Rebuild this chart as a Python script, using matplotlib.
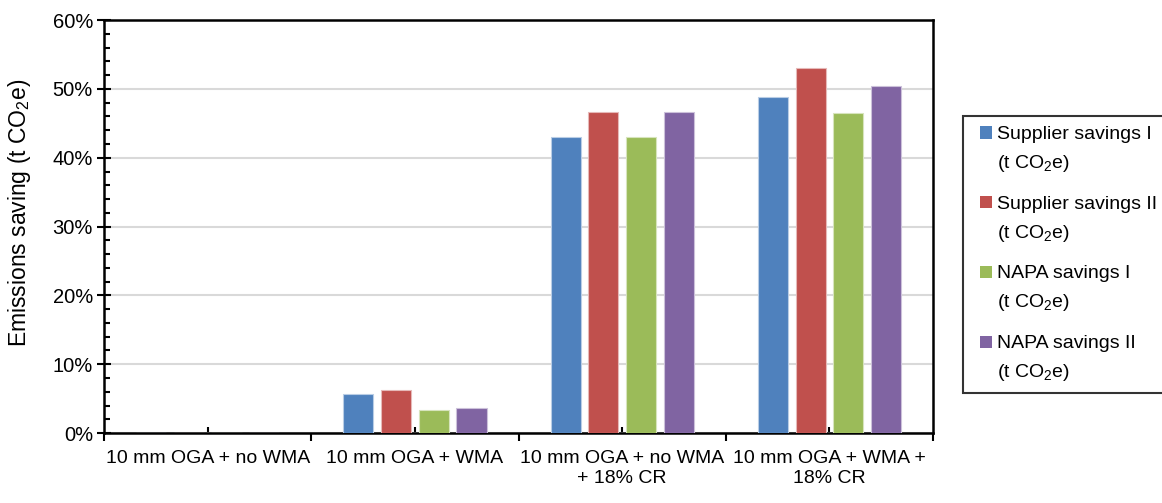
import numpy as np
import matplotlib.pyplot as plt
from matplotlib.patches import Rectangle
from matplotlib.legend_handler import HandlerPatch
from matplotlib.ticker import MultipleLocator, FuncFormatter

plt.rcParams['font.family'] = ['Liberation Sans', 'DejaVu Sans']
plt.rcParams['mathtext.fontset'] = 'custom'
plt.rcParams['mathtext.rm'] = 'Liberation Sans'

scenarios = ["10 mm OGA + no WMA", "10 mm OGA + WMA",
             "10 mm OGA + no WMA\n+ 18% CR", "10 mm OGA + WMA +\n18% CR"]
series = ["Supplier savings I", "Supplier savings II",
          "NAPA savings I", "NAPA savings II"]
supplier_1 = [0.0, 5.7, 43.0, 48.8]
supplier_2 = [0.0, 6.2, 46.7, 53.0]
napa_1 = [0.0, 3.4, 43.0, 46.5]
napa_2 = [0.0, 3.7, 46.7, 50.5]
colors = ["#4F81BD", "#C0504D", "#9BBB59", "#8064A2"]
edges = ["#B9CDE5", "#E6B9B8", "#D7E4BD", "#CCC1DA"]


class TopSquare(HandlerPatch):
    """Small square key placed beside the first line of a two-line label."""
    def create_artists(self, legend, orig_handle, xdescent, ydescent,
                       width, height, fontsize, trans):
        size = 0.64 * fontsize
        x0 = -xdescent + width - size
        y0 = -ydescent + height / 2 - size / 2 + 0.88 * fontsize
        p = Rectangle((x0, y0), size, size, facecolor=orig_handle.get_facecolor(),
                      edgecolor='none', transform=trans)
        return [p]


fig = plt.figure(figsize=(11.62, 5.03), dpi=100)
ax = fig.add_axes([0.0895, 0.139, 0.7135, 0.821])

x = np.arange(1, len(scenarios) + 1)
step = 0.182
width = 0.145
bars = []
for i, vals in enumerate([supplier_1, supplier_2, napa_1, napa_2]):
    b = ax.bar(x + (i - 1.5) * step, vals, width, color=colors[i],
               edgecolor=edges[i], linewidth=0.8, zorder=3)
    bars.append(b)

ax.set_xlim(0.5, 4.5)
ax.set_ylim(0, 60)
ax.yaxis.set_major_locator(MultipleLocator(10))
ax.yaxis.set_minor_locator(MultipleLocator(2))
ax.yaxis.set_major_formatter(FuncFormatter(lambda v, p: f"{v:.0f}%"))
ax.grid(axis='y', color='#D9D9D9', linewidth=1.5, zorder=0)
ax.set_axisbelow(True)

# category labels at centres, tick marks at boundaries
ax.set_xticks(x)
ax.set_xticklabels(scenarios, fontsize=14, linespacing=1.25)
ax.set_xticks(np.arange(0.5, 4.6, 1.0), minor=True)
ax.tick_params(axis='x', which='major', direction='in', length=4, width=1.5, pad=12)
ax.tick_params(axis='x', which='minor', direction='out', length=6, width=1.5)
ax.tick_params(axis='y', which='major', direction='inout', length=10, width=1.5,
               labelsize=14.5, pad=3)
ax.tick_params(axis='y', which='minor', direction='in', length=4, width=1.5)

for s in ax.spines.values():
    s.set_linewidth(1.8)
    s.set_color('black')

ax.set_ylabel("Emissions saving (t CO$_2$e)", fontsize=16.5)
ax.yaxis.set_label_coords(-0.086, 0.533)

handles = [b.patches[0] for b in bars]
labels = [s + "\n(t CO$_2$e)" for s in series]
leg = fig.legend(handles, labels, loc='upper left', bbox_to_anchor=(0.8287, 0.7694),
                 fontsize=14, frameon=True, fancybox=False, edgecolor='black',
                 handler_map={Rectangle: TopSquare()},
                 handlelength=1.0, handleheight=0.7, handletextpad=0.25,
                 labelspacing=1.12, borderpad=0.5, borderaxespad=0)
leg.get_frame().set_linewidth(1.5)
for t in leg.get_texts():
    t.set_linespacing(1.67)

fig.savefig("out.png", dpi=100)
